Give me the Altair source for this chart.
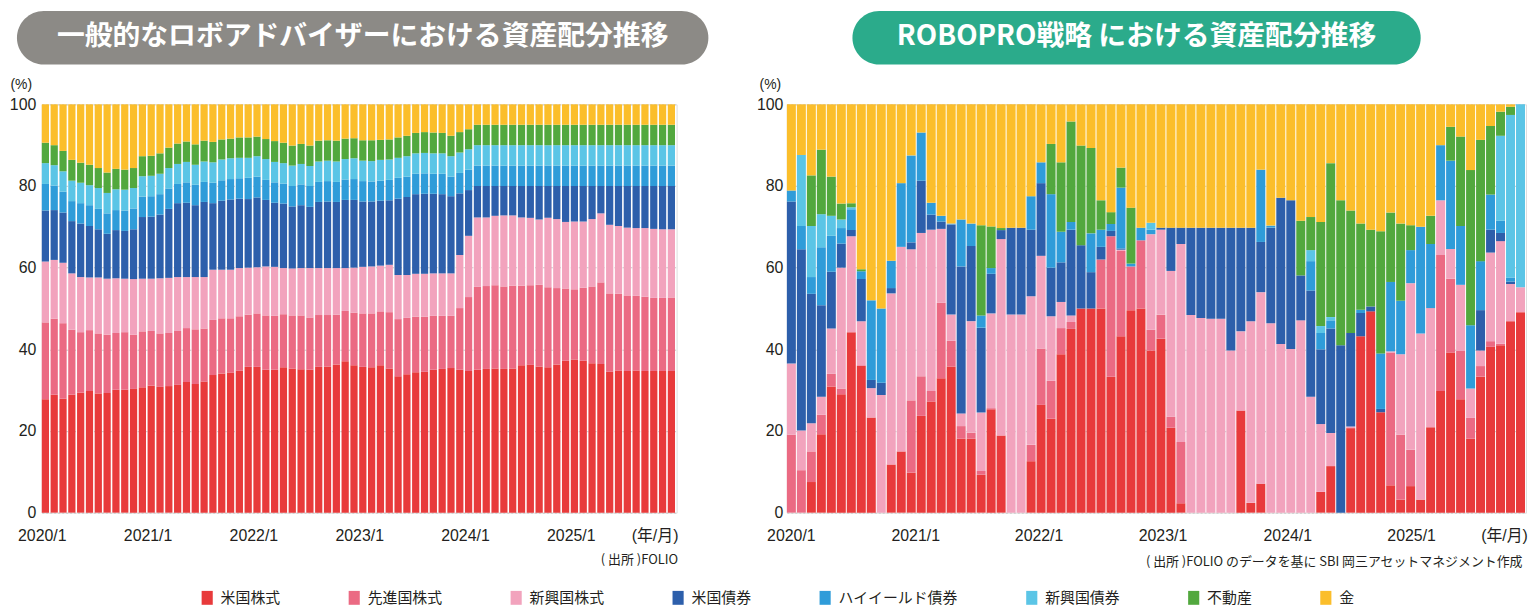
import json
import altair as alt
import pandas as pd

SERIES = ["米国株式", "先進国株式", "新興国株式", "米国債券", "ハイイールド債券", "新興国債券", "不動産", "金"]
COLORS = ["#e83a3b", "#eb6a83", "#f2a3bd", "#2d5fab", "#2f9cd9", "#5bc5e6", "#52a83e", "#fbbe2b"]
TICK_LABELS = ["2020/1", "2021/1", "2022/1", "2023/1", "2024/1", "2025/1", "(年/月)"]
L_TICKS = [0, 12, 24, 36, 48, 60, 69.5]
R_TICKS = [0.4, 12.85, 25.2, 37.6, 50.1, 62.5, 71.8]
LEFT_TITLE = "一般的なロボアドバイザーにおける資産配分推移"
RIGHT_TITLE = "ROBOPRO戦略 における資産配分推移"
LEFT_NOTE = "( 出所 )FOLIO"
RIGHT_NOTE = "( 出所 )FOLIO のデータを基に SBI 岡三アセットマネジメント作成"

# ---- left panel: typical robo-advisor (monthly, %) ----
L_US = [
    27.8, 28.9, 27.9, 28.9, 29.4, 29.8, 29.2, 29.3, 30.1, 30.1, 30.3, 30.7,
    31.1, 30.8, 31.0, 31.3, 32.0, 31.5, 32.1, 33.7, 34.1, 34.3, 34.8, 35.7,
    35.7, 35.0, 35.0, 35.6, 35.3, 35.1, 35.0, 35.7, 35.8, 36.3, 37.1, 36.1,
    35.7, 35.6, 36.1, 35.3, 33.4, 33.9, 34.4, 34.5, 35.0, 35.2, 35.4, 35.0,
    34.7, 35.0, 35.2, 35.3, 35.2, 35.3, 36.1, 36.2, 35.8, 35.6, 36.3, 37.2,
    37.5, 37.2, 36.6, 36.4, 34.5, 34.8, 34.7, 34.8, 34.7, 34.7, 34.7, 34.7]
L_DEV = [
    18.8, 18.6, 18.5, 15.9, 14.8, 14.9, 14.7, 14.3, 13.9, 14.1, 13.3, 13.7,
    13.4, 13.1, 13.0, 13.2, 13.2, 13.4, 13.0, 13.5, 13.5, 13.3, 13.3, 12.8,
    13.1, 13.3, 13.2, 13.0, 13.0, 13.2, 12.8, 12.7, 12.6, 12.2, 12.3, 12.9,
    13.1, 13.2, 13.2, 13.8, 14.0, 13.8, 13.6, 13.5, 13.2, 13.0, 12.8, 15.1,
    18.1, 20.3, 20.3, 20.4, 20.2, 20.3, 19.5, 19.5, 20.0, 19.6, 18.7, 17.7,
    17.2, 17.9, 18.8, 20.0, 19.2, 18.8, 18.5, 18.3, 18.2, 17.9, 17.9, 18.0]
L_EM = [
    14.9, 14.4, 14.8, 13.8, 13.5, 12.9, 13.7, 13.7, 13.4, 13.1, 13.6, 12.9,
    12.8, 13.5, 13.5, 13.2, 12.5, 12.8, 12.6, 12.3, 11.9, 11.9, 11.8, 11.5,
    11.3, 12.0, 12.0, 11.3, 11.5, 11.6, 12.1, 11.5, 11.5, 11.4, 10.5, 11.0,
    11.4, 11.5, 11.2, 11.6, 10.8, 10.5, 10.5, 10.5, 10.4, 10.4, 10.4, 13.0,
    15.0, 17.0, 16.8, 17.0, 17.4, 17.2, 16.7, 16.5, 16.0, 17.0, 16.9, 16.3,
    16.6, 16.2, 16.5, 16.9, 16.8, 16.6, 16.6, 16.6, 16.8, 16.9, 16.8, 16.7]
L_USB = [
    12.5, 12.2, 12.3, 12.8, 13.1, 12.6, 11.8, 11.0, 11.8, 11.7, 12.2, 15.1,
    15.2, 15.6, 16.9, 18.1, 18.2, 17.6, 18.4, 16.3, 16.9, 17.2, 17.0, 16.8,
    17.1, 16.3, 15.7, 15.8, 15.2, 15.4, 15.0, 16.2, 16.3, 16.2, 16.7, 16.6,
    16.0, 15.9, 15.9, 15.8, 18.7, 19.1, 19.5, 19.6, 19.5, 19.4, 18.9, 15.1,
    11.2, 7.7, 7.7, 7.3, 7.2, 7.2, 7.7, 7.8, 8.2, 7.8, 8.1, 8.8,
    8.7, 8.7, 8.1, 6.7, 9.5, 9.8, 10.2, 10.3, 10.3, 10.5, 10.6, 10.6]
L_HY = [
    6.5, 6.0, 5.1, 4.9, 5.0, 5.1, 5.0, 5.0, 4.9, 5.0, 5.1, 5.0,
    5.0, 5.0, 5.0, 4.7, 5.0, 5.0, 4.9, 5.0, 5.0, 5.0, 5.0, 5.2,
    5.1, 4.9, 5.0, 4.9, 5.0, 5.1, 5.1, 4.9, 5.0, 4.9, 5.0, 5.1,
    5.0, 4.9, 4.9, 5.0, 5.1, 5.0, 5.0, 5.0, 4.9, 5.0, 4.8, 5.0,
    5.0, 5.0, 5.0, 5.0, 5.0, 5.0, 5.0, 5.0, 5.0, 5.0, 5.0, 5.0,
    5.0, 5.0, 5.0, 5.0, 5.0, 5.0, 5.0, 5.0, 5.0, 5.0, 5.0, 5.0]
L_EMB = [
    5.1, 5.0, 5.0, 5.0, 5.0, 4.9, 5.1, 5.0, 5.1, 5.1, 5.0, 5.0,
    5.0, 5.0, 5.0, 4.9, 5.0, 4.9, 5.0, 5.0, 5.1, 5.1, 5.0, 4.9,
    5.0, 5.1, 5.0, 5.0, 5.0, 5.0, 4.9, 5.0, 5.0, 5.0, 5.0, 5.1,
    5.0, 5.0, 5.1, 5.0, 4.9, 5.0, 5.0, 5.0, 5.0, 5.0, 5.0, 5.0,
    5.0, 5.0, 5.0, 5.0, 5.0, 5.0, 5.0, 5.0, 5.0, 5.0, 5.0, 5.0,
    5.0, 5.0, 5.0, 5.0, 5.0, 5.0, 5.0, 5.0, 5.0, 5.0, 5.0, 5.0]
L_RE = [
    5.0, 4.9, 5.0, 5.1, 4.9, 5.0, 4.9, 5.0, 5.0, 4.9, 4.9, 4.9,
    4.9, 5.0, 5.0, 5.0, 5.0, 5.0, 5.1, 5.0, 4.9, 4.8, 5.0, 5.0,
    4.8, 4.9, 5.1, 5.0, 4.9, 4.9, 5.0, 5.1, 5.0, 5.1, 5.0, 4.9,
    5.0, 5.1, 4.9, 4.9, 5.0, 5.0, 5.0, 5.1, 5.1, 5.0, 5.0, 5.0,
    4.9, 5.0, 5.0, 5.0, 5.0, 5.0, 5.0, 5.0, 5.0, 5.0, 5.0, 5.0,
    5.0, 5.0, 5.0, 5.0, 5.0, 5.0, 5.0, 5.0, 5.0, 5.0, 5.0, 5.0]
L_GOLD = [
    9.4, 10.0, 11.4, 13.6, 14.3, 14.8, 15.6, 16.7, 15.8, 16.0, 15.6, 12.7,
    12.6, 12.0, 10.6, 9.6, 9.1, 9.8, 8.9, 9.2, 8.6, 8.4, 8.1, 8.1,
    7.9, 8.5, 9.0, 9.4, 10.1, 9.7, 10.1, 8.9, 8.8, 8.9, 8.4, 8.3,
    8.8, 8.8, 8.7, 8.6, 8.1, 7.7, 7.0, 6.8, 6.9, 7.0, 7.7, 6.8,
    6.1, 5.0, 5.0, 5.0, 5.0, 5.0, 5.0, 5.0, 5.0, 5.0, 5.0, 5.0,
    5.0, 5.0, 5.0, 5.0, 5.0, 5.0, 5.0, 5.0, 5.0, 5.0, 5.0, 5.0]

# ---- right panel: ROBOPRO strategy (%) ----
R_US = [
    0, 0, 7.5, 19.2, 30.9, 29.0, 44.2, 35.9, 23.3, 0, 11.8, 15.0,
    9.8, 23.7, 27.2, 32.9, 35.8, 18.1, 18.1, 9.3, 25.3, 18.9, 0, 0,
    12.6, 26.4, 23.0, 38.8, 45.0, 50.0, 50.0, 50.0, 33.3, 43.2, 49.6, 50.0,
    39.7, 42.6, 20.8, 2.3, 0, 0, 0, 0, 0, 25.0, 2.4, 7.1,
    0, 0, 0, 0, 0, 5.1, 11.4, 0, 20.7, 43.2, 49.3, 24.6,
    6.7, 3.2, 6.5, 3.2, 20.9, 29.8, 39.2, 27.8, 18.1, 33.3, 40.6, 41.0,
    46.9, 49.1]
R_DEV = [
    19.1, 10.4, 7.5, 4.8, 3.1, 1.4, 0, 0.2, 0, 0, 0, 0,
    17.7, 9.7, 2.6, 18.5, 6.3, 3.1, 1.5, 0.9, 0.3, 0, 0, 0,
    4.0, 13.8, 9.3, 6.4, 1.7, 0, 0, 12.0, 34.4, 20.9, 10.7, 16.7,
    5.1, 5.9, 2.7, 15.0, 0, 0, 0, 0, 0, 0, 0, 0,
    0, 0, 0, 0, 0, 0, 0, 0, 0, 0, 0, 0,
    32.5, 15.9, 8.9, 0, 0, 33.3, 18.1, 11.8, 5.1, 2.6, 1.4, 0.4,
    0, 0]
R_EM = [
    17.4, 9.7, 6.9, 4.4, 11.1, 29.6, 23.5, 10.8, 7.2, 28.8, 41.9, 50.1,
    37.0, 35.1, 39.5, 18.1, 6.4, 3.1, 27.3, 14.3, 23.2, 48.1, 48.5, 48.5,
    36.4, 22.7, 15.8, 6.4, 1.6, 0, 0, 0, 0, 0.3, 0, 0,
    23.4, 20.8, 35.7, 48.5, 48.4, 47.7, 47.5, 47.5, 39.7, 19.4, 44.5, 46.9,
    46.4, 41.3, 40.1, 47.1, 28.4, 16.6, 8.1, 0, 0.4, 0, 0, 0,
    0.3, 19.7, 40.8, 40.7, 29.2, 13.4, 7.3, 16.2, 7.2, 3.8, 21.7, 25.1,
    9.1, 6.1]
R_USB = [
    39.7, 44.4, 31.7, 22.4, 13.9, 5.9, 1.5, 10.3, 2.0, 3.0, 1.3, 0,
    1.7, 12.8, 3.7, 1.8, 22.1, 36.0, 18.4, 20.8, 9.7, 2.2, 21.3, 21.3,
    16.3, 17.8, 11.9, 9.7, 21.0, 15.5, 8.9, 3.1, 1.3, 0.3, 0, 0,
    0, 0.5, 10.6, 4.0, 21.4, 22.1, 22.3, 22.3, 30.1, 25.4, 22.9, 12.3,
    23.4, 35.8, 36.4, 11.0, 26.0, 18.3, 25.6, 41.0, 22.9, 5.7, 1.2, 0.8,
    0, 0, 0, 0, 0, 0, 0, 0, 0, 9.9, 5.6, 2.0,
    0.6, 0]
R_HY = [
    2.7, 5.7, 4.1, 14.2, 8.8, 3.8, 5.1, 1.9, 19.5, 18.2, 6.7, 15.6,
    21.3, 11.8, 2.9, 1.4, 0.2, 11.5, 5.5, 3.0, 1.4, 0, 0, 0,
    8.2, 5.1, 18.0, 7.5, 1.9, 0, 9.5, 4.2, 1.7, 14.9, 0.7, 3.1,
    1.1, 0, 0, 0, 0, 0, 0, 0, 0, 0, 0, 17.7,
    0.5, 0, 0, 0, 7.2, 4.0, 2.0, 0, 0, 0.8, 0, 13.6,
    17.0, 13.1, 8.1, 26.1, 15.7, 13.5, 21.6, 14.4, 15.5, 12.0, 8.6, 3.0,
    1.0, 0]
R_EMB = [
    0, 17.4, 12.5, 8.1, 4.9, 2.1, 0.5, 0, 0, 0, 0, 0,
    0, 0, 0, 0, 0, 0, 0, 0, 0, 0, 0, 0,
    0, 0, 0, 0, 0, 0, 0, 0, 0, 0, 0, 0,
    1.7, 0, 0, 0, 0, 0, 0, 0, 0, 0, 0, 0,
    0, 0, 0, 0, 2.7, 1.7, 0.8, 0, 0, 0, 0, 0,
    0, 0, 0, 0, 0, 0, 0, 0, 0, 0, 0, 20.8,
    39.8, 44.8]
R_RE = [
    0, 0, 12.4, 15.8, 9.6, 3.9, 1.0, 0.5, 0, 0, 0, 0,
    0, 0, 0, 0, 0, 0, 0, 22.1, 10.2, 0.5, 0, 0,
    0, 0, 12.3, 17.0, 24.6, 24.4, 20.9, 7.2, 2.9, 4.9, 13.7, 0,
    0, 0, 0, 0, 0, 0, 0, 0, 0, 0, 0, 0,
    0, 0, 0, 13.4, 8.1, 25.5, 37.7, 35.5, 30.0, 21.1, 18.8, 29.9,
    17.0, 18.9, 6.1, 0, 6.9, 0, 8.3, 21.9, 38.0, 29.7, 16.8, 5.9,
    2.0, 0]
R_GOLD = [
    21.1, 12.4, 17.4, 11.1, 17.7, 24.3, 24.2, 40.4, 48.0, 50.0, 38.3, 19.3,
    12.5, 6.9, 24.1, 27.3, 29.2, 28.2, 29.2, 29.6, 29.9, 30.3, 30.2, 30.2,
    22.5, 14.2, 9.7, 14.2, 4.2, 10.1, 10.7, 23.5, 26.4, 15.5, 25.3, 30.2,
    29.0, 30.2, 30.2, 30.2, 30.2, 30.2, 30.2, 30.2, 30.2, 30.2, 30.2, 16.0,
    29.7, 22.9, 23.5, 28.5, 27.6, 28.8, 14.4, 23.5, 26.0, 29.2, 30.7, 31.1,
    26.5, 29.2, 29.6, 30.0, 27.3, 10.0, 5.5, 7.9, 16.1, 8.7, 5.3, 1.8,
    0.6, 0]

LEFT_COLS = [L_US, L_DEV, L_EM, L_USB, L_HY, L_EMB, L_RE, L_GOLD]
RIGHT_COLS = [R_US, R_DEV, R_EM, R_USB, R_HY, R_EMB, R_RE, R_GOLD]
assert all(len(c) == 72 for c in LEFT_COLS), [len(c) for c in LEFT_COLS]
assert all(len(c) == 74 for c in RIGHT_COLS), [len(c) for c in RIGHT_COLS]


def to_long(cols):
    rows = []
    for order, (name, vals) in enumerate(zip(SERIES, cols)):
        for k, v in enumerate(vals):
            rows.append({"k": k, "series": name, "order": order, "value": v})
    return pd.DataFrame(rows)


FONT_NUM = "Liberation Sans, Noto Sans CJK JP, sans-serif"
FONT_JP = "Noto Sans CJK JP"
TXT = "#231f20"

LEGEND = alt.Legend(
    orient="none", legendX=159, legendY=489, direction="horizontal", columns=8,
    title=None, symbolType="M-0.8,-1H0.8V1H-0.8Z", symbolSize=196,
    symbolStrokeWidth=0, symbolOpacity=1, labelFont=FONT_JP, labelFontSize=15,
    labelColor=TXT, columnPadding=66, labelOffset=6, padding=0,
)


def panel(cols, n, width, frac, ticks, note, note_x, note_y, ylab_pad, pct_x,
          pill_color, pill_x1, pill_x2, title, title_x):
    df = to_long(cols)
    label_expr = (json.dumps(TICK_LABELS, ensure_ascii=False)
                  + "[indexof(" + json.dumps(ticks) + ", datum.value)]")
    bars = (
        alt.Chart(df)
        .transform_stack(stack="value", groupby=["k"], as_=["y0", "y1"],
                         sort=[alt.SortField(field="order", order="ascending")])
        .transform_calculate(k2=f"datum.k + {frac}")
        .mark_bar()
        .encode(
            x=alt.X("k:Q", scale=alt.Scale(domain=[0, n], nice=False, zero=False),
                    axis=alt.Axis(values=ticks, labelExpr=label_expr, title=note,
                                  titleX=note_x, titleY=note_y, titleAlign="right",
                                  titleBaseline="middle", titleFont=FONT_JP,
                                  titleFontSize=13, titleFontWeight="normal",
                                  titleColor=TXT, labelFlush=False, labelOverlap=False,
                                  ticks=False, tickSize=0, domain=False, grid=False,
                                  labelPadding=15, labelFont=FONT_NUM, labelFontSize=16,
                                  labelColor=TXT)),
            x2="k2:Q",
            y=alt.Y("y0:Q", scale=alt.Scale(domain=[0, 100], nice=False),
                    axis=alt.Axis(values=[0, 20, 40, 60, 80, 100], title="(%)",
                                  titleAngle=0, titleX=pct_x, titleY=-20,
                                  titleAlign="left", titleBaseline="middle",
                                  titleFont=FONT_NUM, titleFontSize=14,
                                  titleFontWeight="normal", titleColor=TXT,
                                  ticks=False, tickSize=0, domain=False, grid=True,
                                  gridDash=[2, 2], gridColor="#c8c8c8",
                                  labelPadding=ylab_pad, labelFont=FONT_NUM,
                                  labelFontSize=16, labelColor=TXT)),
            y2="y1:Q",
            color=alt.Color("series:N", scale=alt.Scale(domain=SERIES, range=COLORS),
                            legend=LEGEND),
        )
    )
    tdf = pd.DataFrame({"t": [title]})
    pill = alt.Chart(tdf).mark_rect(cornerRadius=27, color=pill_color).encode(
        x=alt.value(pill_x1), x2=alt.value(pill_x2), y=alt.value(-94), y2=alt.value(-40))
    text = alt.Chart(tdf).mark_text(font=FONT_JP, fontSize=28, fontWeight="bold",
                                    color="white", align="center", baseline="middle").encode(
        x=alt.value(title_x), y=alt.value(-68), text="t:N")
    return alt.layer(pill, text, bars).properties(width=width, height=411)


left = panel(LEFT_COLS, 72, 639, 0.82, L_TICKS, LEFT_NOTE, 640, 47, 6, -32,
             "#8c8a86", -25, 671, LEFT_TITLE, 323)
right = panel(RIGHT_COLS, 74, 744, 0.9, R_TICKS, RIGHT_NOTE, 740, 49, 4, -28,
              "#2bab8b", 66, 638, RIGHT_TITLE, 352)

chart = (
    alt.hconcat(left, right, spacing=111, bounds="flush", padding=0)
    .configure_view(strokeWidth=0)
    .configure(background="white")
)

chart.save("out.html", embed_options={"renderer": "svg", "actions": False})
